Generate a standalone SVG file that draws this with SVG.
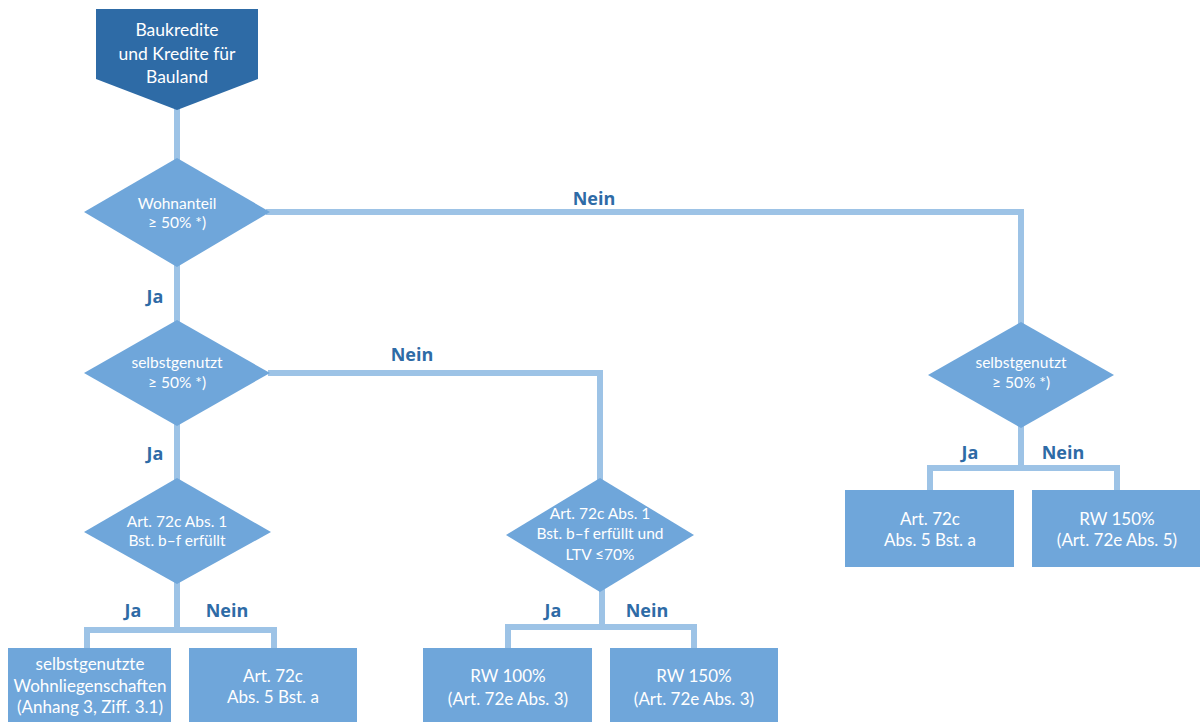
<svg xmlns="http://www.w3.org/2000/svg" width="1200" height="722" viewBox="0 0 1200 722">
<style>
.dec{fill:#6FA6DA}
.box{fill:#6FA6DA}
.t{font-family:Lato,"Open Sans","Liberation Sans",sans-serif;font-size:15.5px;fill:#FFFFFF;text-anchor:middle}
.tx{font-family:Lato,"Open Sans","Liberation Sans",sans-serif;font-size:17px;fill:#FFFFFF;text-anchor:middle}
.tb{font-family:Lato,"Open Sans","Liberation Sans",sans-serif;font-size:17.5px;fill:#FFFFFF;text-anchor:middle}
.lbl{font-family:"Open Sans","Liberation Sans",sans-serif;font-size:18px;font-weight:bold;fill:#2E6BA6;text-anchor:middle}
.c{fill:none;stroke:#9DC3E6;stroke-width:6;stroke-linejoin:miter}
</style>
<rect width="1200" height="722" fill="#FFFFFF"/>
<g id="connectors">
<path class="c" d="M177,105 V160"/>
<path class="c" d="M266,212 H1021 V325"/>
<path class="c" d="M177,264 V322"/>
<path class="c" d="M268,373 H600 V480"/>
<path class="c" d="M177,423 V480"/>
<path class="c" d="M177,580 V630 M87,650 V630 H274 V650"/>
<path class="c" d="M602,588 V627 M508,650 V627 H694 V650"/>
<path class="c" d="M1021,425 V468 M930,492 V468 H1117 V492"/>
<text class="lbl" x="594" y="205">Nein</text>
<text class="lbl" x="155" y="303">Ja</text>
<text class="lbl" x="412" y="361">Nein</text>
<text class="lbl" x="155" y="460">Ja</text>
<text class="lbl" x="133" y="617">Ja</text>
<text class="lbl" x="227" y="617">Nein</text>
<text class="lbl" x="553" y="617">Ja</text>
<text class="lbl" x="647" y="617">Nein</text>
<text class="lbl" x="970" y="459">Ja</text>
<text class="lbl" x="1063" y="459">Nein</text>
</g>
<g id="start">
<polygon points="96,9 258,9 258,79 177,110 96,79" fill="#2E6BA6"/>
<text class="tb" x="177" y="36">Baukredite</text>
<text class="tb" x="177" y="60">und Kredite für</text>
<text class="tb" x="177" y="83">Bauland</text>
</g>
<g id="d1">
<polygon class="dec" points="177,158 270,212 177,267 84,212"/>
<text class="t" x="177" y="209">Wohnanteil</text>
<text class="t" x="177" y="228">≥ 50% *)</text>
</g>
<g id="d2">
<polygon class="dec" points="177,320 270,373 177,426 84,373"/>
<text class="t" x="177" y="368">selbstgenutzt</text>
<text class="t" x="177" y="388">≥ 50% *)</text>
</g>
<g id="d3">
<polygon class="dec" points="1021,322 1114,375 1021,428 928,375"/>
<text class="t" x="1021" y="368">selbstgenutzt</text>
<text class="t" x="1021" y="388">≥ 50% *)</text>
</g>
<g id="d4">
<polygon class="dec" points="177,478 271,532 177,584 84,532"/>
<text class="t" x="177" y="527">Art. 72c Abs. 1</text>
<text class="t" x="177" y="546">Bst. b–f erfüllt</text>
</g>
<g id="d5">
<polygon class="dec" points="600,478 694,535 600,592 506,535"/>
<text class="t" x="600" y="519">Art. 72c Abs. 1</text>
<text class="t" x="600" y="539">Bst. b–f erfüllt und</text>
<text class="t" x="600" y="560">LTV ≤70%</text>
</g>
<g id="b1">
<rect class="box" x="8" y="648" width="163" height="74"/>
<text class="tx" x="90" y="670">selbstgenutzte</text>
<text class="tx" x="90" y="692">Wohnliegenschaften</text>
<text class="tx" x="90" y="713">(Anhang 3, Ziff. 3.1)</text>
</g>
<g id="b2">
<rect class="box" x="189" y="648" width="168" height="74"/>
<text class="tx" x="273" y="682">Art. 72c</text>
<text class="tx" x="273" y="703">Abs. 5 Bst. a</text>
</g>
<g id="b3">
<rect class="box" x="423" y="648" width="169" height="74"/>
<text class="tx" x="508" y="682">RW 100%</text>
<text class="tx" x="508" y="705">(Art. 72e Abs. 3)</text>
</g>
<g id="b4">
<rect class="box" x="610" y="648" width="168" height="74"/>
<text class="tx" x="694" y="682">RW 150%</text>
<text class="tx" x="694" y="705">(Art. 72e Abs. 3)</text>
</g>
<g id="b5">
<rect class="box" x="845" y="490" width="169" height="77"/>
<text class="tx" x="930" y="525">Art. 72c</text>
<text class="tx" x="930" y="546">Abs. 5 Bst. a</text>
</g>
<g id="b6">
<rect class="box" x="1032" y="490" width="168" height="77"/>
<text class="tx" x="1117" y="525">RW 150%</text>
<text class="tx" x="1117" y="546">(Art. 72e Abs. 5)</text>
</g>
</svg>
